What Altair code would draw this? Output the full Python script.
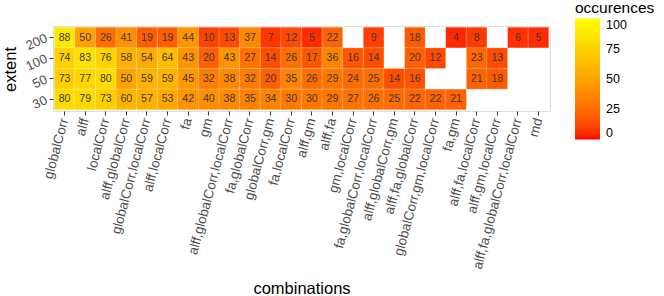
import altair as alt
import pandas as pd

combinations = [
    "globalCorr", "alff", "localCorr", "alff,globalCorr", "globalCorr,localCorr",
    "alff,localCorr", "fa", "gm", "alff,globalCorr,localCorr", "fa,globalCorr",
    "globalCorr,gm", "fa,localCorr", "alff,gm", "alff,fa", "gm,localCorr",
    "fa,globalCorr,localCorr", "alff,globalCorr,gm", "alff,fa,globalCorr",
    "globalCorr,gm,localCorr", "fa,gm", "alff,fa,localCorr", "alff,gm,localCorr",
    "alff,fa,globalCorr,localCorr", "md",
]
extents = ["200", "100", "50", "30"]

N = None
occ_200 = [88, 50, 26, 41, 19, 19, 44, 10, 13, 37, 7, 12, 5, 22, N, 9, N, 18, N, 4, 8, N, 6, 5]
occ_100 = [74, 83, 76, 58, 54, 64, 43, 20, 43, 27, 14, 26, 17, 36, 16, 14, N, 20, 12, N, 23, 13, N, N]
occ_50 = [73, 77, 80, 50, 59, 59, 45, 32, 38, 32, 20, 35, 26, 29, 24, 25, 14, 16, N, N, 21, 18, N, N]
occ_30 = [80, 79, 73, 60, 57, 53, 42, 40, 38, 35, 34, 30, 30, 29, 27, 26, 25, 22, 22, 21, N, N, N, N]

rows = []
for ext, vals in zip(extents, [occ_200, occ_100, occ_50, occ_30]):
    for comb, v in zip(combinations, vals):
        if v is not None:
            rows.append({"combinations": comb, "extent": ext, "occurences": v})
df = pd.DataFrame(rows)

FONT = "Liberation Sans"

x_enc = alt.X(
    "combinations:N", sort=combinations,
    scale=alt.Scale(paddingInner=0, paddingOuter=0.06),
    axis=alt.Axis(
        title="combinations", labelAngle=-75, labelAlign="right", labelBaseline="middle",
        labelFontSize=13.5, labelColor="#4d4d4d", labelFont=FONT, labelPadding=3,
        tickColor="#333333", tickSize=4, domain=False, grid=False,
        titleFontSize=16.5, titleFont=FONT, titleFontWeight="normal", titleColor="#000000",
        titleY=177, titleBaseline="middle",
    ),
)
y_enc = alt.Y(
    "extent:N", sort=extents,
    scale=alt.Scale(paddingInner=0, paddingOuter=0.06),
    axis=alt.Axis(
        title="extent", labelAngle=-25, labelAlign="right", labelBaseline="middle",
        labelFontSize=13, labelColor="#4d4d4d", labelFont=FONT, labelPadding=3,
        tickColor="#333333", tickSize=4, domain=False, grid=False,
        titleFontSize=16.5, titleFont=FONT, titleFontWeight="normal", titleColor="#000000",
        titleX=-43, titleY=43, titleBaseline="middle", titleAngle=-90, titleAlign="center",
    ),
)

tiles = alt.Chart(df).mark_rect(stroke="white", strokeWidth=0.3, strokeOpacity=0.6).encode(
    x=x_enc,
    y=y_enc,
    color=alt.Color(
        "occurences:Q",
        scale=alt.Scale(domain=[0, 100], range=["#ff0000", "#ffff00"], interpolate="lab"),
        legend=alt.Legend(
            title="occurences", orient="none", legendX=522, legendY=-25,
            gradientLength=121, gradientThickness=25, gradientStrokeWidth=0,
            titleFontSize=15.5, titleFont=FONT, titleFontWeight="normal", titleColor="#000000",
            titlePadding=2,
            labelFontSize=12.5, labelFont=FONT, labelColor="#000000",
            values=[0, 25, 50, 75, 100], tickCount=5, labelOffset=6,
        ),
    ),
)

labels = alt.Chart(df).mark_text(fontSize=10.5, font=FONT, color="#3a3a3a").encode(
    x=alt.X("combinations:N", sort=combinations),
    y=alt.Y("extent:N", sort=extents),
    text="occurences:Q",
)

chart = (
    alt.layer(tiles, labels)
    .properties(
        width=497, height=85,
        autosize=alt.AutoSizeParams(type="none"),
        padding={"left": 53, "top": 26, "right": 114, "bottom": 185},
    )
    .configure_view(stroke="#7f7f7f", strokeWidth=1.3)
    .configure(background="white")
)

chart.save("out.html", embed_options={"renderer": "svg", "actions": False})
